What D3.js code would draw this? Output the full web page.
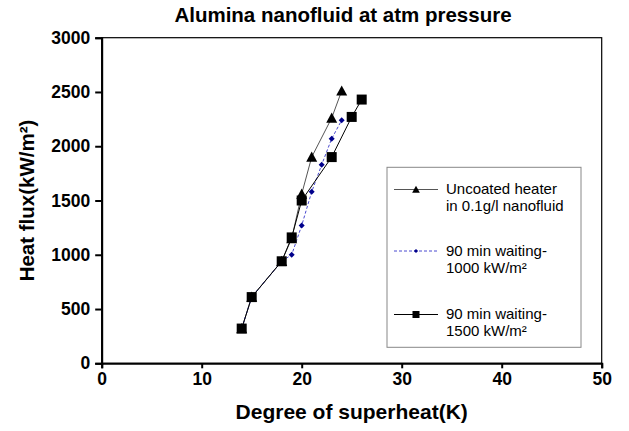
<!DOCTYPE html>
<html>
<head>
<meta charset="utf-8">
<script src="https://cdn.jsdelivr.net/npm/d3@7"></script>
<style>
  body { margin: 0; background: #fff; }
  svg { display: block; font-family: "Liberation Sans", Arial, sans-serif; }
</style>
</head>
<body>
<div id="chart"></div>
<script>
// data
const uncoatedX = [14, 15, 18, 19, 20, 21, 23, 24];
const uncoatedY = [320, 610, 940, 1150, 1560, 1900, 2260, 2510];
const wait1000X = [14, 15, 18, 19, 20, 21, 22, 23, 24];
const wait1000Y = [320, 610, 940, 1000, 1270, 1580, 1830, 2070, 2240];
const wait1500X = [14, 15, 18, 19, 20, 23, 25, 26];
const wait1500Y = [320, 610, 940, 1160, 1500, 1900, 2270, 2430];
const xTicks = [0, 10, 20, 30, 40, 50];
const yTicks = [0, 500, 1000, 1500, 2000, 2500, 3000];
const legendLabels = [
    ["Uncoated heater", "in 0.1g/l nanofluid"],
    ["90 min waiting-", "1000 kW/m²"],
    ["90 min waiting-", "1500 kW/m²"]
];

const width = 629, height = 431;
const margin = { top: 37.7, right: 27.3, bottom: 67.7, left: 101.7 };

const svg = d3.select("#chart").append("svg")
    .attr("width", width)
    .attr("height", height);

const x = d3.scaleLinear().domain([0, 50]).range([margin.left, width - margin.right]);
const y = d3.scaleLinear().domain([0, 3000]).range([height - margin.bottom, margin.top]);

// plot frame
svg.append("rect")
    .attr("x", x(0)).attr("y", y(3000))
    .attr("width", x(50) - x(0)).attr("height", y(0) - y(3000))
    .attr("fill", "none").attr("stroke", "#000").attr("stroke-width", 1.2);

const xAxis = svg.append("g")
    .attr("transform", `translate(0,${y(0)})`)
    .call(d3.axisBottom(x).tickValues(xTicks).tickSize(5).tickPadding(4).tickFormat(d3.format("d")));
const yAxis = svg.append("g")
    .attr("transform", `translate(${x(0)},0)`)
    .call(d3.axisLeft(y).tickValues(yTicks).tickSize(6.5).tickPadding(5).tickFormat(d3.format("d")));

[xAxis, yAxis].forEach(g => {
    g.select(".domain").attr("stroke-width", 2);
    g.selectAll(".tick line").attr("stroke-width", 2);
    g.selectAll(".tick text")
        .attr("font-size", 17.5)
        .attr("font-weight", "bold")
        .attr("font-family", "Liberation Sans, Arial, sans-serif")
        .attr("fill", "#000");
});

// titles
svg.append("text")
    .attr("x", 343).attr("y", 21.5)
    .attr("text-anchor", "middle")
    .attr("font-size", 20.5).attr("font-weight", "bold")
    .text("Alumina nanofluid at atm pressure");

svg.append("text")
    .attr("x", x(25)).attr("y", 419)
    .attr("text-anchor", "middle")
    .attr("font-size", 21).attr("font-weight", "bold")
    .text("Degree of superheat(K)");

svg.append("text")
    .attr("transform", `translate(34,${y(1500)}) rotate(-90)`)
    .attr("text-anchor", "middle")
    .attr("font-size", 20.5).attr("font-weight", "bold")
    .text("Heat flux(kW/m²)");

// series
const series = [
    { xs: uncoatedX, ys: uncoatedY, line: "#555", dash: null, marker: "triangle" },
    { xs: wait1000X, ys: wait1000Y, line: "#4a4ad0", dash: "3,2", marker: "diamond" },
    { xs: wait1500X, ys: wait1500Y, line: "#000", dash: null, marker: "square" }
];

const line = d3.line().x(d => x(d[0])).y(d => y(d[1]));

function drawMarker(g, type, cx, cy, scale) {
    if (type === "triangle") {
        const s = 5.5 * scale;
        g.append("path")
            .attr("d", `M${cx},${cy - s} L${cx + s},${cy + s * 0.85} L${cx - s},${cy + s * 0.85} Z`)
            .attr("fill", "#000");
    } else if (type === "diamond") {
        const s = 3 * scale;
        g.append("path")
            .attr("d", `M${cx},${cy - s} L${cx + s},${cy} L${cx},${cy + s} L${cx - s},${cy} Z`)
            .attr("fill", "#00008b");
    } else {
        const s = 5 * scale;
        g.append("rect")
            .attr("x", cx - s).attr("y", cy - s)
            .attr("width", 2 * s).attr("height", 2 * s)
            .attr("fill", "#000");
    }
}

series.forEach(sr => {
    const pts = sr.xs.map((v, i) => [v, sr.ys[i]]);
    svg.append("path")
        .datum(pts)
        .attr("d", line)
        .attr("fill", "none")
        .attr("stroke", sr.line)
        .attr("stroke-width", 1)
        .attr("stroke-dasharray", sr.dash);
});

series.forEach(sr => {
    const g = svg.append("g");
    sr.xs.forEach((v, i) => drawMarker(g, sr.marker, x(v), y(sr.ys[i]), 1));
});

// legend
const legendRows = [189.5, 251, 314.5];

svg.append("rect")
    .attr("x", 387).attr("y", 167.3)
    .attr("width", 194).attr("height", 180)
    .attr("fill", "#fff").attr("stroke", "#888").attr("stroke-width", 1);

series.forEach((sr, i) => {
    const ly = legendRows[i];
    const g = svg.append("g");
    g.append("line")
        .attr("x1", 394).attr("x2", 438)
        .attr("y1", ly).attr("y2", ly)
        .attr("stroke", sr.line).attr("stroke-width", 1)
        .attr("stroke-dasharray", sr.dash);
    drawMarker(g, sr.marker, 416, ly, 0.7);

    g.append("text")
        .attr("x", 446).attr("y", ly + 4.5)
        .attr("font-size", 15)
        .text(legendLabels[i][0]);
    g.append("text")
        .attr("x", 446).attr("y", ly + 21.5)
        .attr("font-size", 15)
        .text(legendLabels[i][1]);
});
</script>
</body>
</html>
